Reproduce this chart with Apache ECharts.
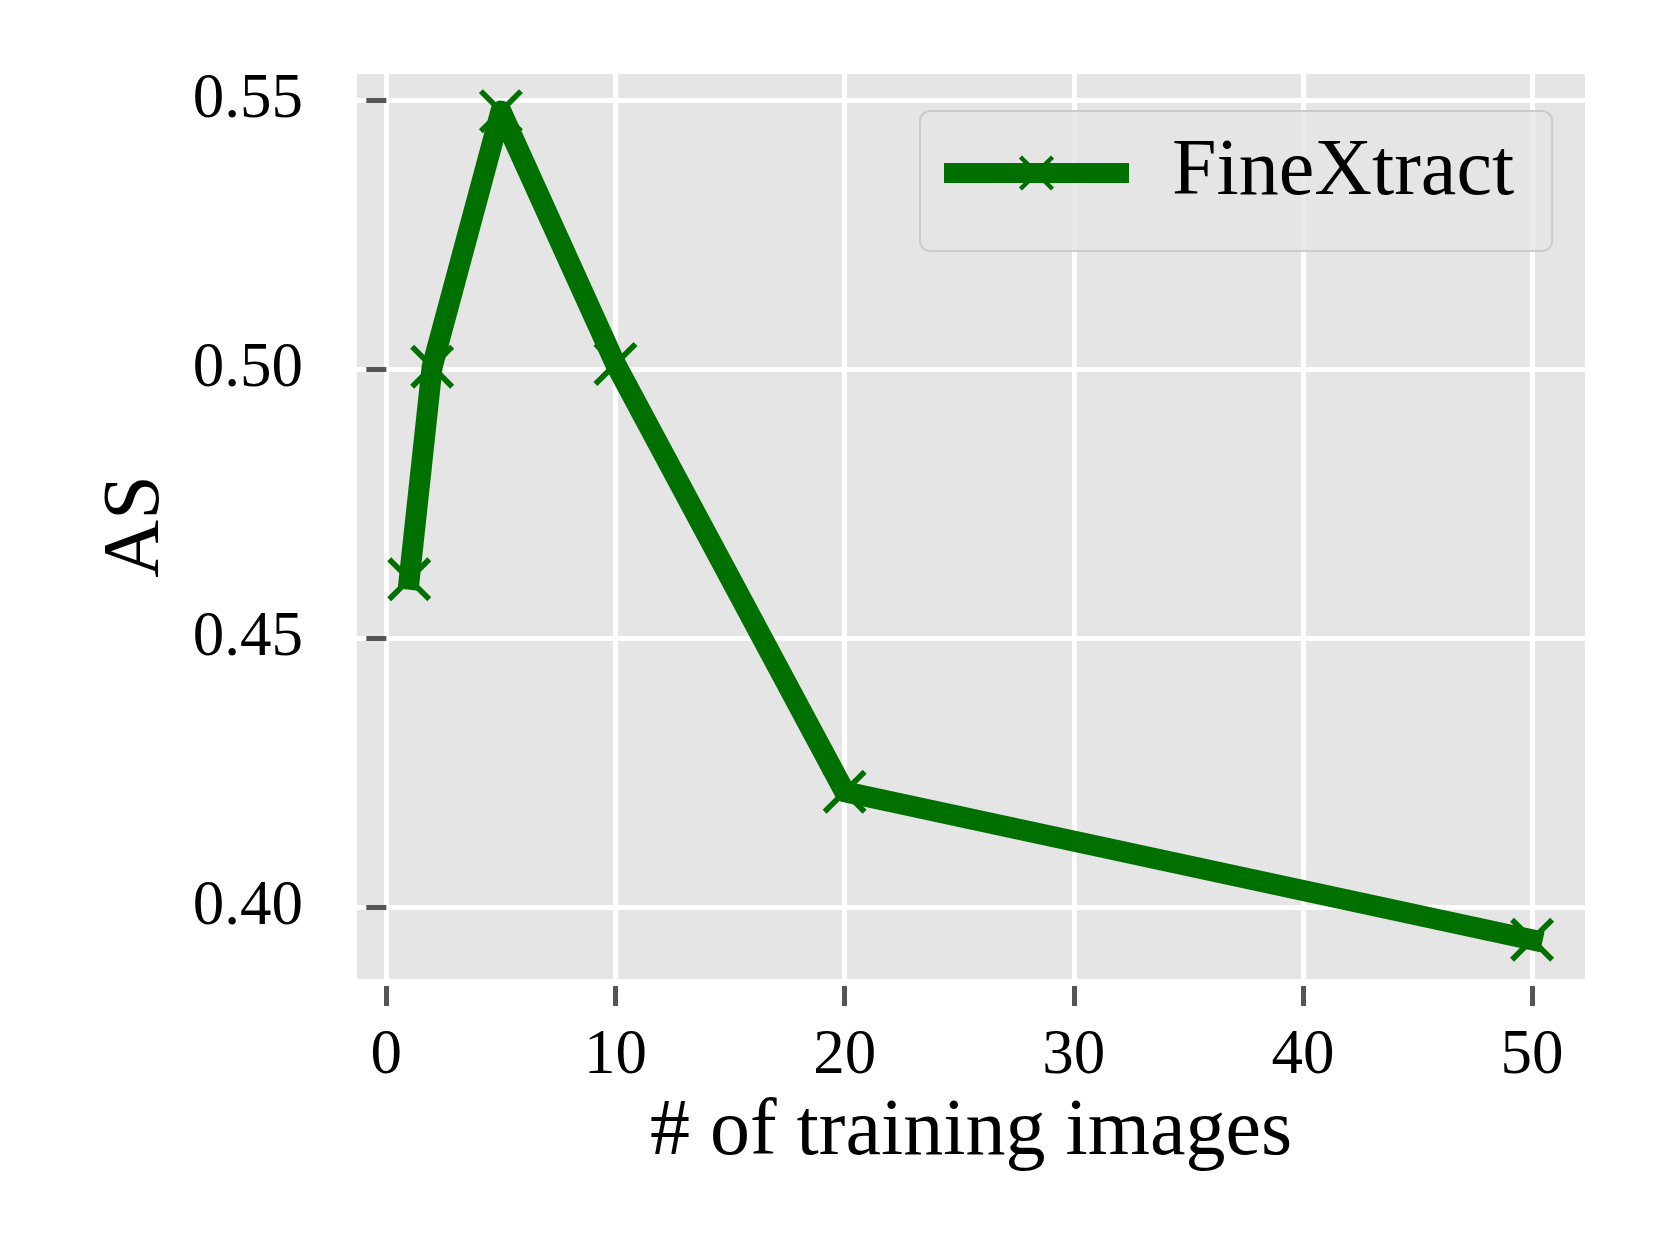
<!DOCTYPE html>
<html>
<head>
<meta charset="utf-8">
<script src="https://cdn.jsdelivr.net/npm/echarts@6/dist/echarts.min.js"></script>
<style>
html, body { margin: 0; padding: 0; background: #fff; }
#chart { width: 1660px; height: 1248px; }
</style>
</head>
<body>
<div id="chart"></div>
<script>
// values
const trainImages = [1, 2, 5, 10, 20, 50];
const asScore = [0.461, 0.5005, 0.548, 0.501, 0.4215, 0.394];
const xTicks = [0, 10, 20, 30, 40, 50];
const yTicks = [0.40, 0.45, 0.50, 0.55];
const seriesName = 'FineXtract';

const green = '#007000';
const tickGray = '#555555';
const font = '"Liberation Serif", "Times New Roman", serif';
// filled "x" marker
const xMarker = 'path://M0,9L9,0L50,41L91,0L100,9L59,50L100,91L91,100L50,59L9,100L0,91L41,50Z';

let chart = echarts.init(document.getElementById('chart'));
chart.setOption({
    animation: false,
    backgroundColor: '#ffffff',
    textStyle: { fontFamily: font },
    grid: {
        left: 357,
        top: 74,
        width: 1228,
        height: 905,
        show: true,
        backgroundColor: '#E5E5E5',
        borderWidth: 0,
        containLabel: false
    },
    legend: {
        left: 920,
        top: 111,
        orient: 'vertical',
        padding: [22, 38, 38, 24],
        itemWidth: 165,
        itemHeight: 44,
        backgroundColor: 'rgba(229,229,229,0.8)',
        borderColor: '#CCCCCC',
        borderWidth: 2,
        borderRadius: 10,
        lineStyle: { width: 20, color: green },
        textStyle: {
            fontFamily: font,
            fontSize: 80,
            color: '#000',
            padding: [0, 0, 0, 48]
        },
        data: [seriesName]
    },
    xAxis: {
        type: 'value',
        min: -1.28,
        max: 52.31,
        offset: 7,
        name: '# of training images',
        nameLocation: 'middle',
        nameGap: 147,
        nameTextStyle: { fontFamily: font, fontSize: 80, color: '#000', verticalAlign: 'middle' },
        axisLine: { show: false },
        axisTick: { show: true, length: 20, customValues: xTicks, lineStyle: { color: tickGray, width: 5 } },
        axisLabel: {
            customValues: xTicks,
            fontFamily: font,
            fontSize: 63,
            color: '#000',
            margin: 70,
            verticalAlign: 'middle'
        },
        splitLine: { show: true, lineStyle: { color: '#ffffff', width: 5 } }
    },
    yAxis: {
        type: 'value',
        min: 0.3867,
        max: 0.5549,
        offset: 8,
        name: 'AS',
        nameLocation: 'middle',
        nameGap: 212,
        nameTextStyle: { fontFamily: font, fontSize: 80, color: '#000', verticalAlign: 'middle' },
        axisLine: { show: false },
        axisTick: { show: true, length: 20, customValues: yTicks, lineStyle: { color: tickGray, width: 5 } },
        axisLabel: {
            customValues: yTicks,
            fontFamily: font,
            fontSize: 63,
            color: '#000',
            margin: 46,
            formatter: v => v.toFixed(2)
        },
        splitLine: { show: true, lineStyle: { color: '#ffffff', width: 5 } }
    },
    series: [{
        name: seriesName,
        type: 'line',
        data: trainImages.map((x, i) => [x, asScore[i]]),
        symbol: xMarker,
        symbolSize: 44,
        showAllSymbol: true,
        itemStyle: { color: green },
        lineStyle: { color: green, width: 21, join: 'round', cap: 'square' },
        emphasis: { disabled: true }
    }]
});
</script>
</body>
</html>
